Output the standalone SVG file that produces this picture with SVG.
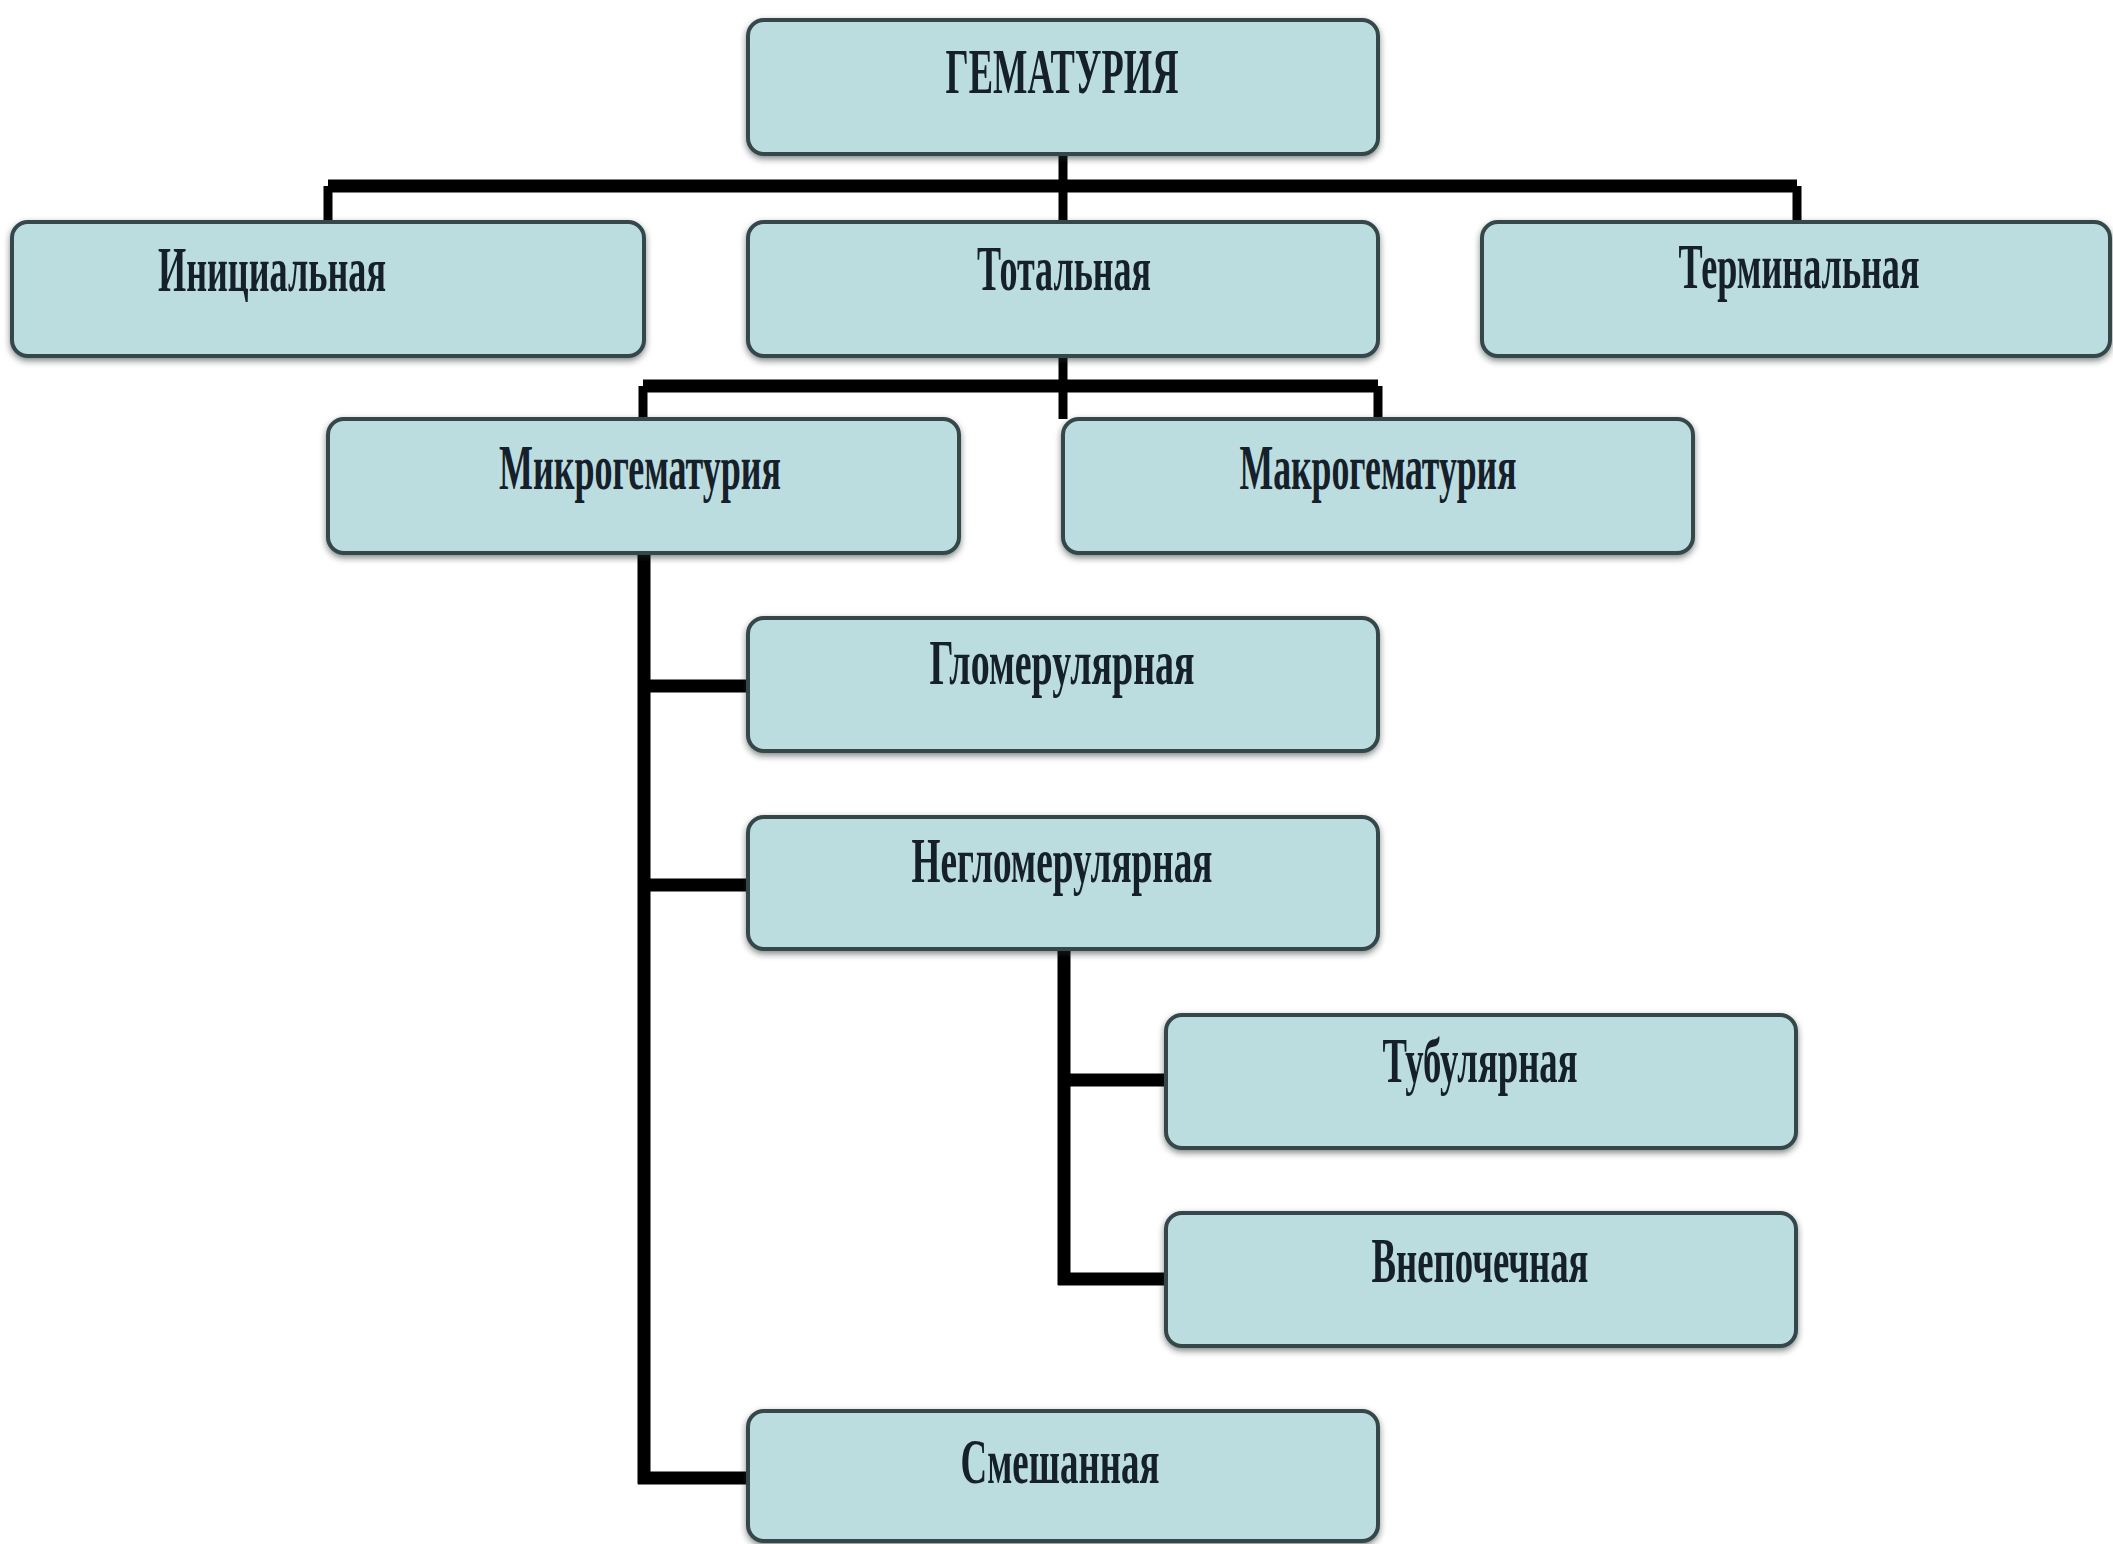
<svg xmlns="http://www.w3.org/2000/svg" width="2113" height="1544" viewBox="0 0 2113 1544">
<style>
.box{fill:#bcdde0;stroke:#34474a;stroke-width:4}
.lbl{font-family:"Liberation Serif","DejaVu Serif",serif;font-weight:bold;font-size:64px;fill:#15202a;text-anchor:middle}
.c{fill:none;stroke:#000;stroke-linecap:butt}
.thick{stroke-width:13}
.thin{stroke-width:9}
</style>
<defs>
<filter id="sh" x="-5%" y="-20%" width="110%" height="140%">
<feDropShadow dx="0" dy="3" stdDeviation="3" flood-color="#1c2b2c" flood-opacity="0.55"/>
</filter>
</defs>
<rect width="2113" height="1544" fill="#ffffff"/>
<g id="connectors">
<path class="c thin" d="M1063 154 V222"/>
<path class="c thick" d="M328 186 H1797"/>
<path class="c thin" d="M328 186 V222 M1797 186 V222"/>
<path class="c thin" d="M1063 356 V419"/>
<path class="c thick" d="M643 386 H1378"/>
<path class="c thin" d="M643 386 V419 M1378 386 V419"/>
<path class="c thick" d="M644 552 V1484"/>
<path class="c thick" d="M638 686 H748 M638 885 H748 M638 1478 H748"/>
<path class="c thick" d="M1064 949 V1285"/>
<path class="c thick" d="M1058 1080 H1166 M1058 1279 H1166"/>
</g>
<g id="n-gematuria"><rect class="box" filter="url(#sh)" x="748" y="20" width="630" height="134" rx="16"/><text class="lbl" x="1062" y="93" textLength="233" lengthAdjust="spacingAndGlyphs">ГЕМАТУРИЯ</text></g>
<g id="n-initial"><rect class="box" filter="url(#sh)" x="12" y="222" width="632" height="134" rx="16"/><text class="lbl" x="272" y="291" textLength="228" lengthAdjust="spacingAndGlyphs">Инициальная</text></g>
<g id="n-total"><rect class="box" filter="url(#sh)" x="748" y="222" width="630" height="134" rx="16"/><text class="lbl" x="1064" y="290" textLength="174" lengthAdjust="spacingAndGlyphs">Тотальная</text></g>
<g id="n-terminal"><rect class="box" filter="url(#sh)" x="1482" y="222" width="628" height="134" rx="16"/><text class="lbl" x="1799" y="288" textLength="241" lengthAdjust="spacingAndGlyphs">Терминальная</text></g>
<g id="n-micro"><rect class="box" filter="url(#sh)" x="328" y="419" width="631" height="134" rx="16"/><text class="lbl" x="640" y="489" textLength="282" lengthAdjust="spacingAndGlyphs">Микрогематурия</text></g>
<g id="n-macro"><rect class="box" filter="url(#sh)" x="1063" y="419" width="630" height="134" rx="16"/><text class="lbl" x="1378" y="489" textLength="277" lengthAdjust="spacingAndGlyphs">Макрогематурия</text></g>
<g id="n-glom"><rect class="box" filter="url(#sh)" x="748" y="618" width="630" height="133" rx="16"/><text class="lbl" x="1062" y="684" textLength="265" lengthAdjust="spacingAndGlyphs">Гломерулярная</text></g>
<g id="n-nonglom"><rect class="box" filter="url(#sh)" x="748" y="817" width="630" height="132" rx="16"/><text class="lbl" x="1062" y="882" textLength="301" lengthAdjust="spacingAndGlyphs">Негломерулярная</text></g>
<g id="n-tubular"><rect class="box" filter="url(#sh)" x="1166" y="1015" width="630" height="133" rx="16"/><text class="lbl" x="1480" y="1082" textLength="195" lengthAdjust="spacingAndGlyphs">Тубулярная</text></g>
<g id="n-extrarenal"><rect class="box" filter="url(#sh)" x="1166" y="1213" width="630" height="133" rx="16"/><text class="lbl" x="1480" y="1282" textLength="217" lengthAdjust="spacingAndGlyphs">Внепочечная</text></g>
<g id="n-mixed"><rect class="box" filter="url(#sh)" x="748" y="1411" width="630" height="130" rx="16"/><text class="lbl" x="1060" y="1483" textLength="199" lengthAdjust="spacingAndGlyphs">Смешанная</text></g>
</svg>
